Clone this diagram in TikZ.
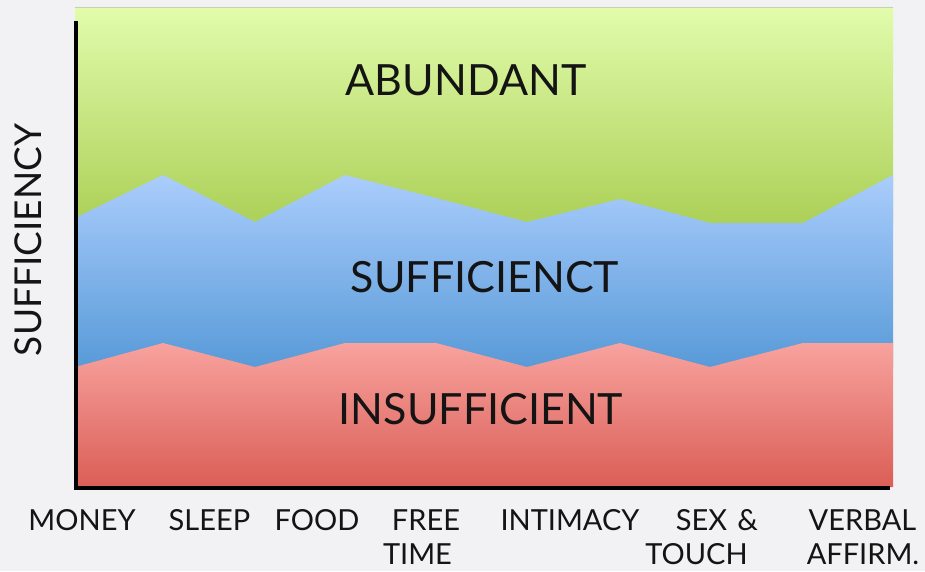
\documentclass[tikz,border=0pt]{standalone}
\usepackage{fontspec}
\setmainfont{Lato}
\begin{document}
\begin{tikzpicture}[x=1pt,y=-1pt,
  big/.style={font=\fontsize{43}{48}\selectfont, text=black!92, inner sep=0pt, anchor=base},
  cat/.style={font=\fontsize{29}{34}\selectfont, text=black!92, inner sep=0pt, anchor=base, text depth=0pt},
  axisline/.style={line width=3.8pt, black}]
\useasboundingbox (0,0) rectangle (925,571);
\fill[color={rgb,255:red,242;green,242;blue,244}] (0,0) rectangle (925,571);
% green band
\shade[top color={rgb,255:red,226;green,252;blue,172}, bottom color={rgb,255:red,172;green,208;blue,88}]
  (75,7) rectangle (893,223);
% blue band
\shade[top color={rgb,255:red,170;green,205;blue,252}, bottom color={rgb,255:red,88;green,154;blue,216}]
  (75,218) -- (163,175) -- (255,222) -- (345,175) -- (436,198) -- (527,222) -- (620,199) -- (710,223) -- (803,223) -- (893,175) -- (893,367) -- (75,367) -- cycle;
% red band
\shade[top color={rgb,255:red,248;green,162;blue,158}, bottom color={rgb,255:red,218;green,94;blue,86}]
  (75,367) -- (163,343) -- (255,367) -- (345,343) -- (436,343) -- (527,367) -- (620,343) -- (710,367) -- (803,343) -- (893,343) -- (893,487) -- (75,487) -- cycle;
\draw[line width=1pt, color={rgb,255:red,200;green,208;blue,178}] (75,7) -- (893,7);
% axes
\coordinate (ytop) at (76,21);
\coordinate (origin) at (76,488);
\coordinate (xend) at (890,488);
\draw[axisline] (ytop) -- (origin) -- (xend);
% band labels
\node[big] (abundant) at (466,95) {ABUNDANT};
\node[big] (suff) at (485,292) {SUFFICIENCT};
\node[big] (insuff) at (481,424) {INSUFFICIENT};
% y label
\node[big, font=\fontsize{37}{42}\selectfont, rotate=90] (ylab) at (41,240) {SUFFICIENCY};
% category labels
\node[cat] (money) at (82,530) {MONEY};
\node[cat] (sleep) at (209.5,530) {SLEEP};
\node[cat] (food) at (317,530) {FOOD};
\node[cat] (free) at (426,530) {FREE};
\node[cat] (time) at (417.5,564) {TIME};
\node[cat] (intimacy) at (570,530) {INTIMACY};
\node[cat] (sex) at (717,530) {SEX\hspace{0.35em}\&};
\node[cat] (touch) at (696.5,564) {TOUCH};
\node[cat] (verbal) at (862.5,530) {VERBAL};
\node[cat] (affirm) at (863,564) {AFFIRM.};
\end{tikzpicture}
\end{document}
